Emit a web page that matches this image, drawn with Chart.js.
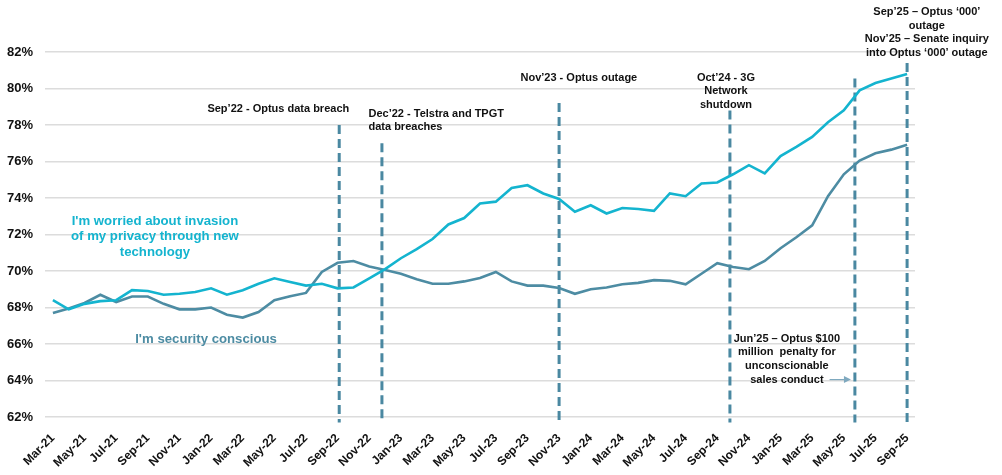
<!DOCTYPE html>
<html>
<head>
<meta charset="utf-8">
<script src="https://cdn.jsdelivr.net/npm/chart.js@4.4.1/dist/chart.umd.min.js"></script>
<style>
  html, body { margin: 0; padding: 0; background: #fff; }
  #wrap { width: 1002px; height: 475px; }
</style>
</head>
<body>
<div id="wrap"><canvas id="chart"></canvas></div>
<script>
// months Mar-21 .. Sep-25
const months = [
  'Mar-21','Apr-21','May-21','Jun-21','Jul-21','Aug-21','Sep-21','Oct-21','Nov-21','Dec-21',
  'Jan-22','Feb-22','Mar-22','Apr-22','May-22','Jun-22','Jul-22','Aug-22','Sep-22','Oct-22','Nov-22','Dec-22',
  'Jan-23','Feb-23','Mar-23','Apr-23','May-23','Jun-23','Jul-23','Aug-23','Sep-23','Oct-23','Nov-23','Dec-23',
  'Jan-24','Feb-24','Mar-24','Apr-24','May-24','Jun-24','Jul-24','Aug-24','Sep-24','Oct-24','Nov-24','Dec-24',
  'Jan-25','Feb-25','Mar-25','Apr-25','May-25','Jun-25','Jul-25','Aug-25','Sep-25'
];

const worried = [
  68.4, 67.9, 68.2, 68.35, 68.4, 68.95, 68.9, 68.7, 68.75, 68.85,
  69.05, 68.7, 68.95, 69.3, 69.6, 69.4, 69.2, 69.3, 69.05, 69.1, 69.6, 70.1,
  70.7, 71.2, 71.75, 72.55, 72.9, 73.7, 73.8, 74.55, 74.7, 74.25, 73.95, 73.25,
  73.6, 73.15, 73.45, 73.4, 73.3, 74.25, 74.1, 74.8, 74.85, 75.3, 75.8, 75.35,
  76.3, 76.8, 77.35, 78.15, 78.8, 79.9, 80.3, 80.55, 80.8
];

const security = [
  67.7, 67.95, 68.25, 68.7, 68.3, 68.6, 68.6, 68.2, 67.9, 67.9,
  68.0, 67.6, 67.45, 67.75, 68.4, 68.62, 68.8, 69.95, 70.45, 70.55, 70.25, 70.05,
  69.85, 69.55, 69.3, 69.3, 69.43, 69.62, 69.95, 69.43, 69.2, 69.2, 69.07, 68.75,
  69.0, 69.1, 69.27, 69.35, 69.5, 69.46, 69.27, 69.85, 70.43, 70.22, 70.1, 70.55,
  71.25, 71.85, 72.5, 74.1, 75.3, 76.05, 76.45, 76.65, 76.92
];

// event markers: month position and the % where the dashed line starts
const eventPos = [18.1, 20.8, 32, 42.8, 50.7, 54];
const eventTop = [78, 77, 79.2, 78.8, 80.55, 81.4];

const cyan = '#14b4cf';
const teal = '#4d8ca3';
const dash = '#4a88a1';
const font = '"Liberation Sans", Arial, sans-serif';

// annotation texts: [x month pos, y %, align, lines]
const notes = [
  [14.25, 78.9, 'center', ['Sep\u201922 - Optus data breach']],
  [19.95, 78.62, 'left', ['Dec\u201922 - Telstra and TPGT', 'data breaches']],
  [33.25, 80.6, 'center', ['Nov\u201923 - Optus outage']],
  [42.55, 80.6, 'center', ['Oct\u201924 - 3G', 'Network', 'shutdown']],
  [55.25, 84.2, 'center', ['Sep\u201925 \u2013 Optus \u2018000\u2019', 'outage', 'Nov\u201925 \u2013 Senate inquiry', 'into Optus \u2018000\u2019 outage']],
  [46.4, 66.3, 'center', ['Jun\u201925 \u2013 Optus $100', 'million  penalty for', 'unconscionable', 'sales conduct']]
];

const annotate = {
  id: 'annotate',
  beforeDatasetsDraw(chart) {
    const ctx = chart.ctx;
    const x = chart.scales.x, y = chart.scales.y;
    ctx.save();
    ctx.strokeStyle = dash;
    ctx.lineWidth = 3;
    ctx.setLineDash([9, 5]);
    eventPos.forEach((p, i) => {
      const px = x.getPixelForValue(p);
      ctx.beginPath();
      ctx.moveTo(px, y.getPixelForValue(eventTop[i]));
      ctx.lineTo(px, y.getPixelForValue(61.7));
      ctx.stroke();
    });
    ctx.restore();
  },
  afterDraw(chart) {
    const ctx = chart.ctx;
    const x = chart.scales.x, y = chart.scales.y;
    ctx.save();
    ctx.textBaseline = 'middle';
    ctx.fillStyle = '#111';
    ctx.font = 'bold 11px ' + font;
    notes.forEach(n => {
      ctx.textAlign = n[2];
      const px = x.getPixelForValue(n[0]);
      const py = y.getPixelForValue(n[1]);
      n[3].forEach((t, k) => ctx.fillText(t, px, py + k * 13.7));
    });

    // arrow to the Jun'25 line
    const ay = y.getPixelForValue(64.05);
    const ax1 = x.getPixelForValue(49.1), ax2 = x.getPixelForValue(50.45);
    ctx.strokeStyle = '#7fa9bf';
    ctx.fillStyle = '#7fa9bf';
    ctx.lineWidth = 1.2;
    ctx.beginPath();
    ctx.moveTo(ax1, ay);
    ctx.lineTo(ax2 - 5, ay);
    ctx.stroke();
    ctx.beginPath();
    ctx.moveTo(ax2, ay);
    ctx.lineTo(ax2 - 7, ay - 3.5);
    ctx.lineTo(ax2 - 7, ay + 3.5);
    ctx.closePath();
    ctx.fill();

    // series labels
    ctx.textAlign = 'center';
    ctx.font = 'bold 13.2px ' + font;
    ctx.fillStyle = cyan;
    const wx = x.getPixelForValue(6.45), wy = y.getPixelForValue(72.74);
    ['I\'m worried about invasion', 'of my privacy through new', 'technology']
      .forEach((t, k) => ctx.fillText(t, wx, wy + k * 15.6));
    ctx.fillStyle = teal;
    ctx.fillText('I\'m security conscious', x.getPixelForValue(9.68), y.getPixelForValue(66.24));
    ctx.restore();
  }
};

new Chart(document.getElementById('chart'), {
  type: 'line',
  data: {
    labels: months,
    datasets: [
      {
        label: 'I\'m worried about invasion of my privacy through new technology',
        data: worried,
        borderColor: cyan,
        borderWidth: 2.6,
        pointRadius: 0,
        tension: 0
      },
      {
        label: 'I\'m security conscious',
        data: security,
        borderColor: teal,
        borderWidth: 2.6,
        pointRadius: 0,
        tension: 0
      }
    ]
  },
  options: {
    responsive: true,
    maintainAspectRatio: false,
    animation: false,
    layout: { padding: { left: 0, right: 87, top: 52, bottom: 0 } },
    plugins: {
      legend: { display: false },
      tooltip: { enabled: false }
    },
    scales: {
      x: {
        offset: true,
        afterFit: function(scale) { scale.height = 58; },
        grid: { display: false },
        border: { display: false },
        ticks: {
          autoSkip: false,
          maxRotation: 45,
          minRotation: 45,
          padding: 6,
          color: '#111',
          font: { family: font, size: 12, weight: 'bold' },
          callback: function(v, i) { return i % 2 === 0 ? months[i] : ''; }
        }
      },
      y: {
        min: 62,
        max: 82,
        afterFit: function(scale) { scale.width = 45; },
        grid: { color: '#dcdcdc', lineWidth: 1.5, drawTicks: false },
        border: { display: false },
        ticks: {
          stepSize: 2,
          padding: 12,
          color: '#111',
          font: { family: font, size: 13, weight: 'bold' },
          callback: v => v + '%'
        }
      }
    }
  },
  plugins: [annotate]
});
</script>
</body>
</html>
